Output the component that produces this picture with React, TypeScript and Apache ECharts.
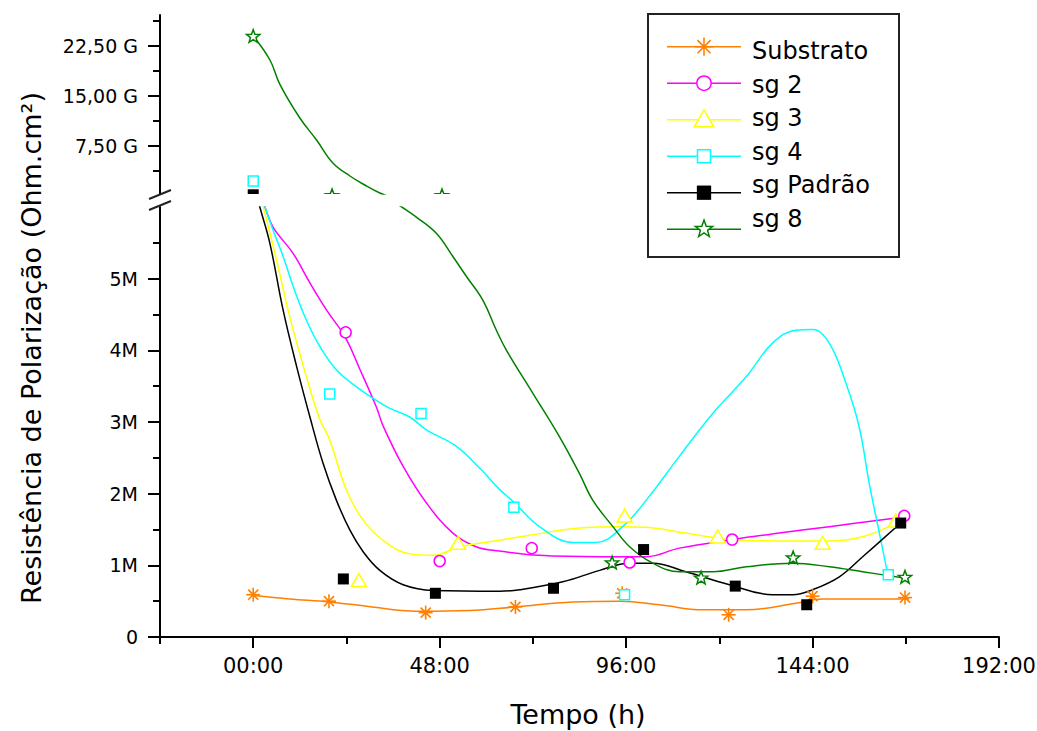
import React, { useEffect, useRef } from 'react';
import * as echarts from 'echarts';

const FONT = '"DejaVu Sans", "Liberation Sans", sans-serif';

// ---- axis ticks ----
const xTickMajor = [0, 48, 96, 144, 192];
const xTickMinor = [-24, 24, 72, 120, 168];
const lowerTickMajor = [0, 1, 2, 3, 4, 5];
const lowerTickMinor = [0.5, 1.5, 2.5, 3.5, 4.5, 5.5];
const upperTickMajor = [7.5, 15, 22.5];
const upperTickMinor = [3.75, 11.25, 18.75, 26.25];

// ---- series ----
const seriesNames = ['Substrato', 'sg 2', 'sg 3', 'sg 4', 'sg Padrão', 'sg 8'];
const seriesColors = ['#FF8000', '#FF00FF', '#FFFF00', '#00FFFF', '#000000', '#008000'];
const markerKinds = ['asterisk', 'circle', 'triangle', 'square', 'fsquare', 'star'];

// measured points, lower panel (hours, M Ohm.cm2)
const substratoPts = [[0, 0.59], [19.5, 0.5], [44.4, 0.34], [67.5, 0.42], [95, 0.61], [122.4, 0.31], [144, 0.57], [167.8, 0.55]];
const sg2Pts = [[23.8, 4.25], [48, 1.06], [71.7, 1.24], [96.9, 1.04], [123.3, 1.36], [167.6, 1.69]];
const sg3Pts = [[27.2, 0.78], [52.7, 1.3], [95.6, 1.68], [119.6, 1.39], [146.6, 1.3], [165.4, 1.61]];
const sg4Pts = [[19.7, 3.39], [43.2, 3.12], [67.1, 1.81], [95.6, 0.59], [163.5, 0.87]];
const sgPadraoPts = [[23.2, 0.81], [46.9, 0.61], [77.3, 0.68], [100.5, 1.22], [124.1, 0.71], [142.5, 0.45], [166.7, 1.59]];
const sg8Pts = [[92.4, 1.03], [115.3, 0.82], [139, 1.1], [167.8, 0.83]];

// measured points, upper panel (hours, G Ohm.cm2)
const sg4PtsG = [[0, 2.25]];
const sgPadraoPtsG = [[0, 0.18]];
const sg8PtsG = [[0, 23.9], [20.3, 0.005], [48.6, 0.005]];

// fitted curves, lower panel (hours, M)
const substratoCurve = [[0, 0.58], [9.4, 0.53], [19.5, 0.49], [29.2, 0.43], [42, 0.36], [55.7, 0.37], [67.5, 0.42], [82.3, 0.49], [94.3, 0.5], [104.6, 0.45], [115.7, 0.38], [126.9, 0.38], [139.7, 0.47], [146.6, 0.53], [168.9, 0.53]];
const sg2Curve = [[0, 6.4], [3, 6.0], [5.1, 5.72], [10.3, 5.35], [14.6, 4.94], [18.9, 4.56], [23.6, 4.19], [27.5, 3.73], [31.7, 3.21], [33.4, 2.95], [38.6, 2.38], [44.6, 1.87], [51.4, 1.45], [57.4, 1.26], [63.4, 1.2], [73.7, 1.14], [89.2, 1.12], [101.2, 1.12], [109.7, 1.24], [123.4, 1.36], [135.4, 1.45], [148.3, 1.54], [167.1, 1.67]];
const sg3Curve = [[0, 6.55], [2.6, 6.0], [6, 5.26], [9.4, 4.47], [13.7, 3.63], [17.2, 3.03], [19.7, 2.75], [24, 2.05], [28.3, 1.63], [33.4, 1.35], [40.3, 1.16], [46.3, 1.14], [53.2, 1.26], [63.4, 1.35], [71.2, 1.42], [84, 1.52], [94.3, 1.54], [101.2, 1.53], [111.4, 1.45], [122.6, 1.36], [135.4, 1.34], [148.3, 1.34], [156.9, 1.4], [165.4, 1.59]];
const sg4Curve = [[0, 6.45], [3, 6.0], [5.1, 5.68], [7.7, 5.31], [10.3, 4.89], [13.7, 4.42], [17.2, 4.05], [21.4, 3.73], [26.6, 3.49], [30.9, 3.33], [35.2, 3.19], [40.3, 3.07], [44.6, 2.89], [52.3, 2.66], [58.6, 2.34], [63.4, 2.06], [66.9, 1.89], [73.7, 1.54], [82.3, 1.32], [88.3, 1.32], [95.1, 1.54], [101.2, 1.91], [109.7, 2.52], [118.3, 3.12], [126.9, 3.63], [133.7, 4.1], [139.7, 4.28], [144, 4.29], [148.3, 4.1], [152.6, 3.54], [156, 2.93], [158.6, 2.14], [161.2, 1.45], [163.3, 0.89]];
const sgPadraoCurve = [[0, 6.35], [1.7, 6.0], [4.3, 5.49], [7.7, 4.56], [11.2, 3.77], [14.6, 3.07], [18, 2.42], [21.4, 1.91], [24.9, 1.49], [28.3, 1.19], [32.6, 0.93], [38.6, 0.73], [46.3, 0.65], [63.4, 0.64], [68.6, 0.66], [79.7, 0.77], [89.2, 0.93], [96.9, 1.03], [102.9, 1.03], [111.4, 0.91], [122.6, 0.73], [133.7, 0.59], [138.9, 0.59], [144, 0.66], [150.9, 0.84], [156.9, 1.12], [166.7, 1.59]];
const sg8Curve = [[33, 6.2], [37.7, 6.02], [42, 5.86], [47.2, 5.63], [51.4, 5.31], [54.9, 5.03], [59.1, 4.7], [62.6, 4.28], [65.2, 4.0], [72, 3.4], [78.9, 2.79], [84, 2.28], [87.4, 1.91], [92.6, 1.54], [96.9, 1.26], [102.9, 1.03], [109.7, 0.91], [118.3, 0.91], [126.9, 0.98], [138.9, 1.03], [148.3, 0.98], [156.9, 0.91], [168, 0.82]];
// fitted curve, upper panel (hours, G)
const sg8CurveG = [[0, 24.0], [4.3, 20.4], [6.9, 16.7], [12, 11.7], [16.3, 8.4], [20.5, 4.95], [24.9, 3.0], [28.7, 1.65], [32.6, 0.45], [36, -0.3]];

const lowerPts = [substratoPts, sg2Pts, sg3Pts, sg4Pts, sgPadraoPts, sg8Pts];
const upperPts = [[], [], [], sg4PtsG, sgPadraoPtsG, sg8PtsG];
const lowerCurves = [substratoCurve, sg2Curve, sg3Curve, sg4Curve, sgPadraoCurve, sg8Curve];
const upperCurves = [[], [], [], [], [], sg8CurveG];

function markerShape(kind: string, cx: number, cy: number, s: number, color: string): any[] {
  const open = { stroke: color, lineWidth: 1.5, fill: '#ffffff' };
  switch (kind) {
    case 'asterisk': {
      const r = 7 * s;
      const d = r * 0.72;
      const st = { stroke: color, lineWidth: 1.6 };
      return [
        { type: 'line', shape: { x1: cx, y1: cy - r, x2: cx, y2: cy + r }, style: st },
        { type: 'line', shape: { x1: cx - r, y1: cy, x2: cx + r, y2: cy }, style: st },
        { type: 'line', shape: { x1: cx - d, y1: cy - d, x2: cx + d, y2: cy + d }, style: st },
        { type: 'line', shape: { x1: cx - d, y1: cy + d, x2: cx + d, y2: cy - d }, style: st },
      ];
    }
    case 'circle':
      return [{ type: 'circle', shape: { cx, cy, r: 5.5 * s }, style: open }];
    case 'triangle':
      return [{ type: 'polygon', shape: { points: [[cx, cy - 7.5 * s], [cx - 7.5 * s, cy + 5.5 * s], [cx + 7.5 * s, cy + 5.5 * s]] }, style: open }];
    case 'square':
      return [{ type: 'rect', shape: { x: cx - 5 * s, y: cy - 5 * s, width: 10 * s, height: 10 * s }, style: open }];
    case 'fsquare':
      return [{ type: 'rect', shape: { x: cx - 5.5 * s, y: cy - 5.5 * s, width: 11 * s, height: 11 * s }, style: { fill: color } }];
    case 'star': {
      const pts: number[][] = [];
      for (let i = 0; i < 10; i++) {
        const a = -Math.PI / 2 + (i * Math.PI) / 5;
        const rr = (i % 2 === 0 ? 7 : 2.9) * s;
        pts.push([cx + rr * Math.cos(a), cy + rr * Math.sin(a)]);
      }
      return [{ type: 'polygon', shape: { points: pts }, style: open }];
    }
  }
  return [];
}

const axisLineStyle = { color: '#000', width: 2 };
const labelBase = { color: '#000', fontFamily: FONT };

export default function App() {
  const ref = useRef<HTMLDivElement>(null);
  useEffect(() => {
    if (!ref.current) return;
    const chart = echarts.init(ref.current, null, { renderer: 'svg' });

    const series: any[] = [];
    seriesNames.forEach((name, i) => {
      if (upperCurves[i].length) {
        series.push({ name, type: 'line', xAxisIndex: 0, yAxisIndex: 0, data: upperCurves[i], smooth: 0.4, symbol: 'none', showSymbol: false, lineStyle: { color: seriesColors[i], width: 1.5 }, z: 2, silent: true });
      }
      series.push({ name, type: 'line', xAxisIndex: 1, yAxisIndex: 2, data: lowerCurves[i], smooth: 0.4, symbol: 'none', showSymbol: false, lineStyle: { color: seriesColors[i], width: 1.5 }, z: 2, silent: true });
    });
    const markerSeries = (name: string, data: number[][], i: number, xi: number, yi: number) => ({
      name,
      type: 'custom',
      xAxisIndex: xi,
      yAxisIndex: yi,
      clip: true,
      data,
      z: 3,
      silent: true,
      renderItem: (_p: any, api: any) => {
        const p = api.coord([api.value(0), api.value(1)]);
        return { type: 'group', children: markerShape(markerKinds[i], p[0], p[1], 1, seriesColors[i]) };
      },
    });
    seriesNames.forEach((name, i) => {
      if (upperPts[i].length) series.push(markerSeries(name, upperPts[i], i, 0, 0));
      series.push(markerSeries(name, lowerPts[i], i, 1, 2));
    });

    const legendChildren: any[] = [
      { type: 'rect', shape: { x: 648, y: 14, width: 251, height: 243 }, style: { fill: '#fff', stroke: '#222', lineWidth: 2 } },
    ];
    seriesNames.forEach((name, i) => {
      const ly = 46.7 + i * 36.5;
      const ty = 51 + i * 33.5;
      legendChildren.push({ type: 'line', shape: { x1: 667, y1: ly, x2: 741, y2: ly }, style: { stroke: seriesColors[i], lineWidth: 1.5 } });
      markerShape(markerKinds[i], 704, ly, 1.3, seriesColors[i]).forEach((c) => legendChildren.push(c));
      legendChildren.push({ type: 'text', x: 752, y: ty, style: { text: name, font: `24px ${FONT}`, fill: '#000', align: 'left', verticalAlign: 'middle', textAlign: 'left', textVerticalAlign: 'middle' } });
    });

    const option: any = {
      animation: false,
      backgroundColor: '#fff',
      grid: [
        { left: 160, top: 15, width: 839, height: 179, containLabel: false, outerBoundsMode: 'none' },
        { left: 160, top: 207, width: 839, height: 430, containLabel: false, outerBoundsMode: 'none' },
      ],
      xAxis: [
        { gridIndex: 0, type: 'value', min: -24, max: 192, show: false },
        {
          gridIndex: 1, type: 'value', min: -24, max: 192, position: 'bottom',
          axisLine: { show: true, onZero: false, lineStyle: axisLineStyle },
          axisTick: { show: true, customValues: xTickMajor, length: 11, lineStyle: axisLineStyle },
          axisLabel: { ...labelBase, customValues: xTickMajor, fontSize: 21, margin: 18, formatter: (v: number) => `${String(v).padStart(2, '0')}:00` },
          splitLine: { show: false },
        },
        {
          gridIndex: 1, type: 'value', min: -24, max: 192, position: 'bottom',
          axisLine: { show: false, onZero: false },
          axisTick: { show: true, customValues: xTickMinor, length: 7, lineStyle: axisLineStyle },
          axisLabel: { show: false },
          splitLine: { show: false },
        },
      ],
      yAxis: [
        {
          gridIndex: 0, type: 'value', min: 0.3, max: 27.15, position: 'left',
          axisLine: { show: true, onZero: false, lineStyle: axisLineStyle },
          axisTick: { show: true, customValues: upperTickMajor, length: 12, lineStyle: axisLineStyle },
          axisLabel: { ...labelBase, customValues: upperTickMajor, fontSize: 19, margin: 22, formatter: (v: number) => `${v.toFixed(2).replace('.', ',')} G` },
          splitLine: { show: false },
        },
        {
          gridIndex: 0, type: 'value', min: 0.3, max: 27.15, position: 'left',
          axisLine: { show: false, onZero: false },
          axisTick: { show: true, customValues: upperTickMinor, length: 7, lineStyle: axisLineStyle },
          axisLabel: { show: false },
          splitLine: { show: false },
        },
        {
          gridIndex: 1, type: 'value', min: 0, max: 6, position: 'left',
          axisLine: { show: true, onZero: false, lineStyle: axisLineStyle },
          axisTick: { show: true, customValues: lowerTickMajor, length: 12, lineStyle: axisLineStyle },
          axisLabel: { ...labelBase, customValues: lowerTickMajor, fontSize: 19, margin: 22, formatter: (v: number) => (v === 0 ? '0' : `${v}M`) },
          splitLine: { show: false },
        },
        {
          gridIndex: 1, type: 'value', min: 0, max: 6, position: 'left',
          axisLine: { show: false, onZero: false },
          axisTick: { show: true, customValues: lowerTickMinor, length: 7, lineStyle: axisLineStyle },
          axisLabel: { show: false },
          splitLine: { show: false },
        },
      ],
      series,
      graphic: {
        elements: [
          { type: 'line', shape: { x1: 149, y1: 199, x2: 171, y2: 190 }, style: { stroke: '#222', lineWidth: 2 }, z: 50 },
          { type: 'line', shape: { x1: 149, y1: 210, x2: 171, y2: 201 }, style: { stroke: '#222', lineWidth: 2 }, z: 50 },
          { type: 'text', x: 31, y: 348, rotation: Math.PI / 2, style: { text: 'Resistência de Polarização (Ohm.cm²)', font: `27px ${FONT}`, fill: '#000', align: 'center', verticalAlign: 'middle', textAlign: 'center', textVerticalAlign: 'middle' }, z: 50 },
          { type: 'text', x: 578, y: 714, style: { text: 'Tempo (h)', font: `27px ${FONT}`, fill: '#000', align: 'center', verticalAlign: 'middle', textAlign: 'center', textVerticalAlign: 'middle' }, z: 50 },
          { type: 'group', z: 100, children: legendChildren },
        ],
      },
    };
    chart.setOption(option);
    return () => chart.dispose();
  }, []);
  return <div ref={ref} style={{ position: 'fixed', left: 0, top: 0, width: 1037, height: 731, background: '#fff' }} />;
}
